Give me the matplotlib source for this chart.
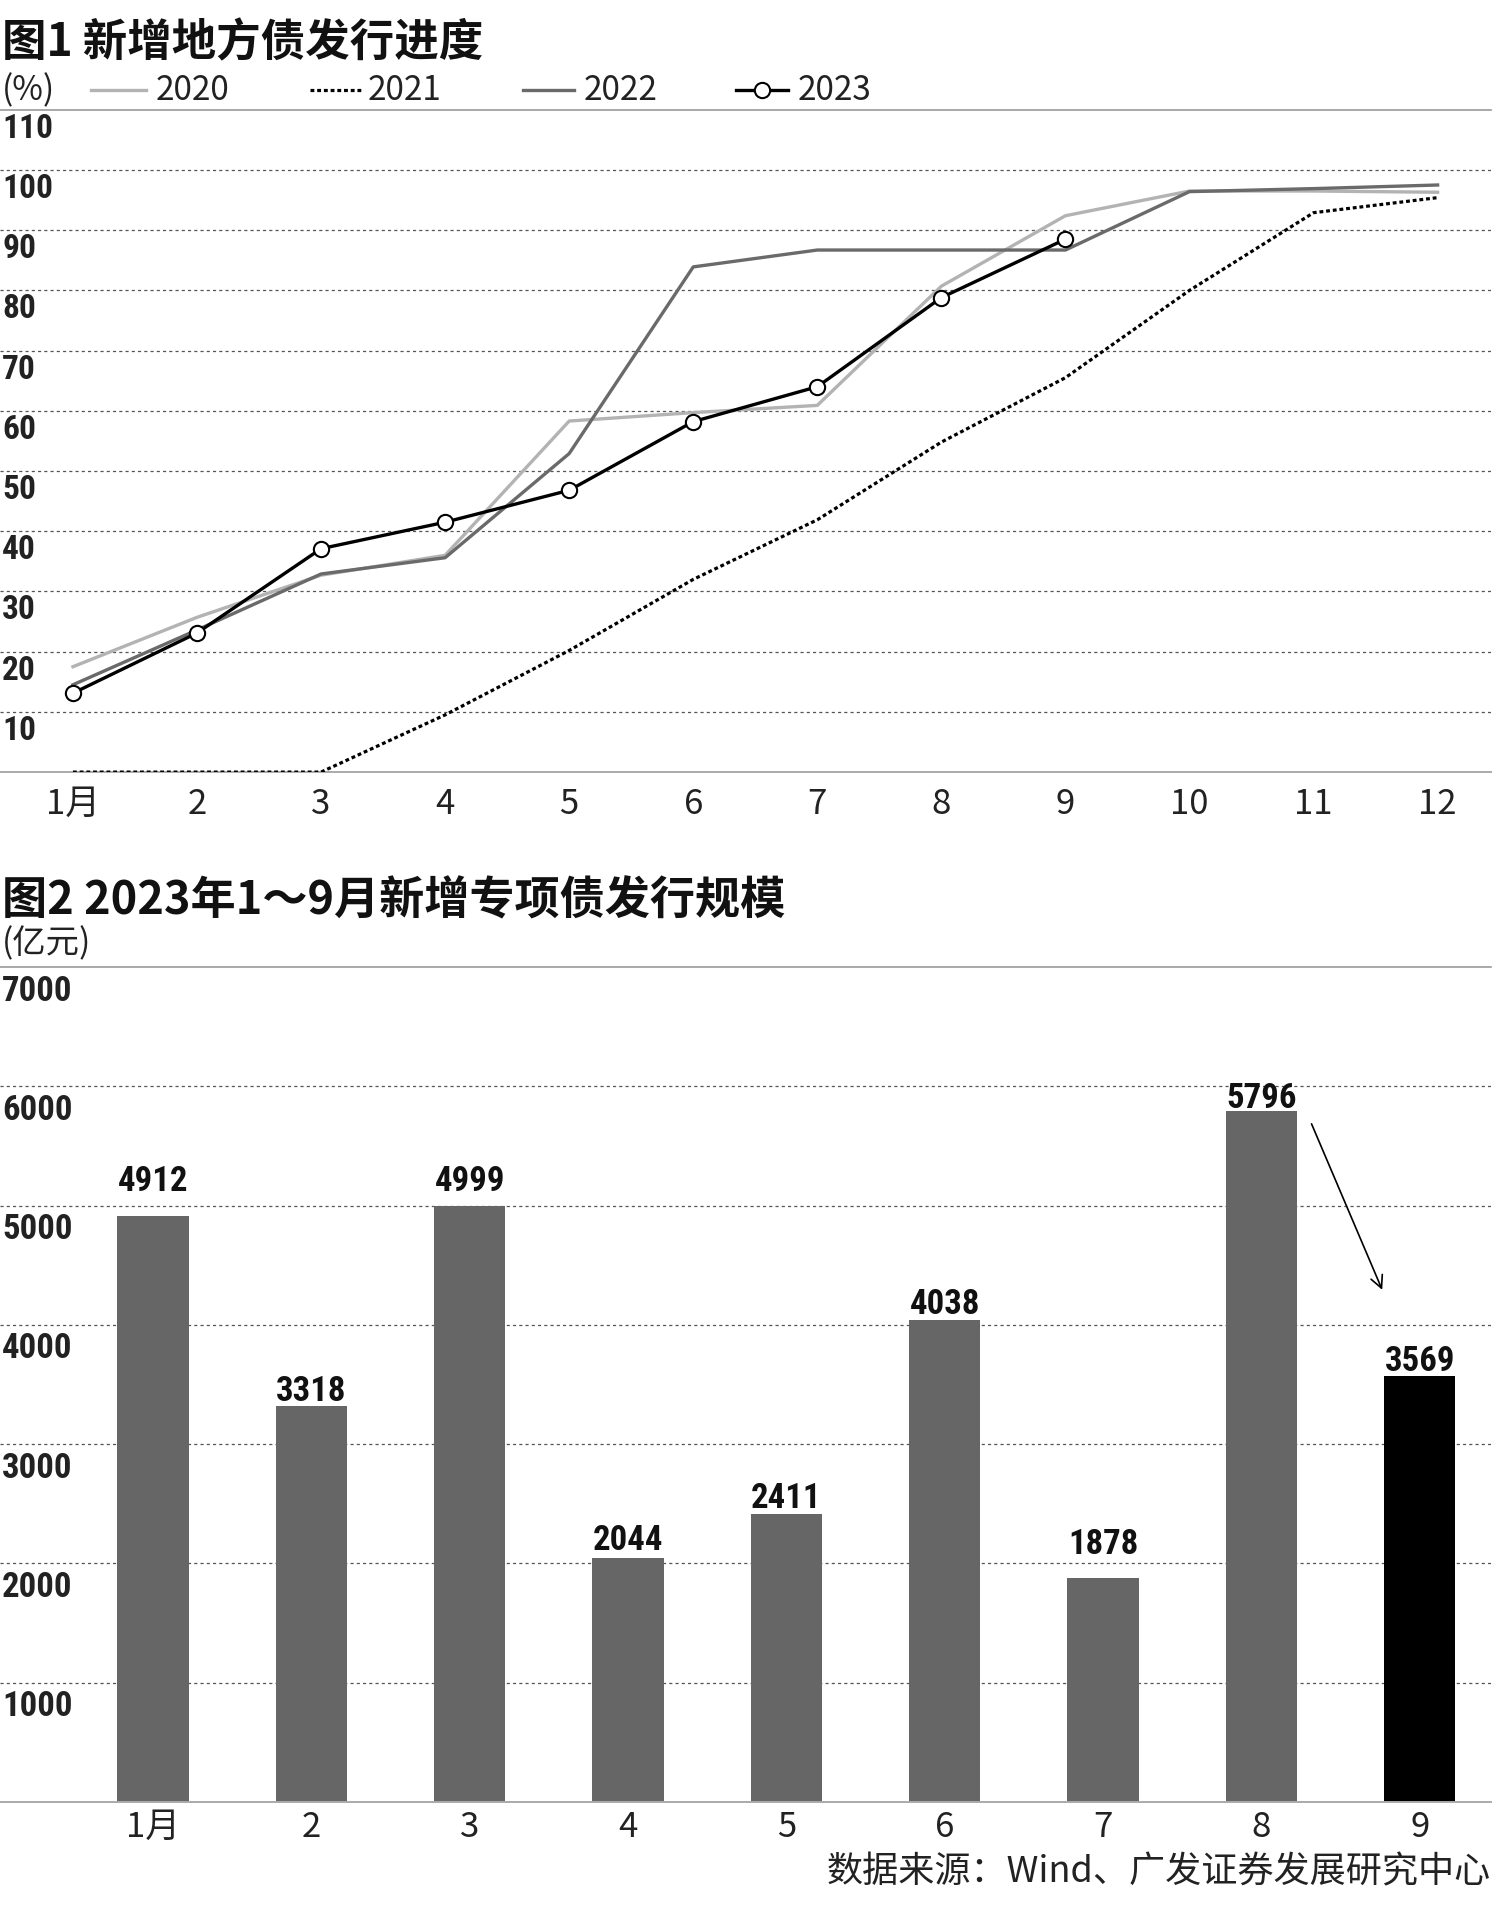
import matplotlib
matplotlib.use("Agg")
import matplotlib.pyplot as plt
from matplotlib.lines import Line2D
from matplotlib import transforms as mtrans
from matplotlib import font_manager as fm

CJK = ['Noto Sans CJK SC', 'DejaVu Sans']
plt.rcParams['font.family'] = CJK

# pick a narrow face for the numbers, if one is installed
_entries = fm.fontManager.ttflist
_names = {f.name for f in _entries}
NUM_KW = None
for cand in ['Liberation Sans Narrow', 'Roboto Condensed', 'Open Sans Condensed',
             'Noto Sans Condensed', 'DejaVu Sans Condensed']:
    if cand in _names:
        NUM_KW = dict(family=[cand, 'DejaVu Sans'], fontweight='bold')
        NUM_SIZE = 1.0
        break
if NUM_KW is None:
    cond = [f for f in _entries if f.name == 'DejaVu Sans' and f.stretch == 'condensed']
    if cond:
        NUM_KW = dict(family=['DejaVu Sans'], fontweight='bold', fontstretch='condensed')
        NUM_SIZE = 0.88
    else:
        NUM_KW = dict(family=['Roboto', 'DejaVu Sans'], fontweight='bold')
        NUM_SIZE = 0.86

# ---------------- data ----------------
months1 = [1, 2, 3, 4, 5, 6, 7, 8, 9, 10, 11, 12]
month_labels1 = ['1月', '2', '3', '4', '5', '6', '7', '8', '9', '10', '11', '12']
s2020 = [17.5, 25.7, 32.7, 36.0, 58.3, 59.7, 60.9, 80.7, 92.4, 96.5, 96.5, 96.3]
s2021 = [0.0, 0.0, 0.0, 9.5, 20.2, 32.0, 41.9, 54.8, 65.5, 80.0, 92.9, 95.4]
s2022 = [14.5, 23.6, 32.9, 35.6, 52.9, 83.9, 86.7, 86.7, 86.7, 96.4, 96.9, 97.5]
months2023 = [1, 2, 3, 4, 5, 6, 7, 8, 9]
s2023 = [13.1, 23.1, 37.1, 41.5, 46.8, 58.2, 64.0, 78.8, 88.5]
yticks1 = [10, 20, 30, 40, 50, 60, 70, 80, 90, 100, 110]

months2 = [1, 2, 3, 4, 5, 6, 7, 8, 9]
month_labels2 = ['1月', '2', '3', '4', '5', '6', '7', '8', '9']
issuance = [4912, 3318, 4999, 2044, 2411, 4038, 1878, 5796, 3569]
yticks2 = [1000, 2000, 3000, 4000, 5000, 6000, 7000]
# vertical gap (pixels) between bar top and centre of its value label
label_gaps = [36, 16, 25, 19, 17, 17, 35, 13, 16]

fig = plt.figure(figsize=(14.98, 19.06), dpi=100)
W = 1498.0

# ---------------- chart 1 ----------------
ax1 = fig.add_axes([0, 0.5944, 0.9953, 0.9419 - 0.5944])
ax1.set_xlim(0.412, 12.43)
ax1.set_ylim(0, 110)
for sp in ['left', 'right']:
    ax1.spines[sp].set_visible(False)
ax1.spines['top'].set_color('#9a9a9a')
ax1.spines['top'].set_linewidth(1.2)
ax1.spines['bottom'].set_color('#aaaaaa')
ax1.spines['bottom'].set_linewidth(1.4)
for v in yticks1[:-1]:
    ax1.axhline(v, color='#555555', lw=0.9, ls=(0, (2.5, 2.5)), zorder=0)
ax1.set_yticks([])
ax1.set_xticks(months1)
ax1.set_xticklabels(month_labels1, fontsize=25, fontweight='light', color='#222222')
ax1.tick_params(axis='x', length=0, pad=10)

ax1.plot(months1, s2020, color='#b3b3b3', lw=2.4, zorder=2)
ax1.plot(months1, s2021, color='black', lw=2.3, ls=(0, (1.2, 0.9)), zorder=3)
ax1.plot(months1, s2022, color='#6a6a6a', lw=2.4, zorder=4)
ax1.plot(months2023, s2023, color='black', lw=2.4, marker='o', ms=11,
         mfc='white', mec='black', mew=1.5, zorder=5)

off1 = mtrans.offset_copy(ax1.get_yaxis_transform(), fig=fig, x=0, y=-18, units='dots')
for v in yticks1:
    ax1.text(0.0015, v, str(v), transform=off1, ha='left', va='center',
             fontsize=24 * NUM_SIZE, color='#222222', **NUM_KW)

# title & legend
fig.text(0.0015, 0.9770, '图1 新增地方债发行进度', fontsize=32, fontweight='bold',
         va='center', ha='left', color='#111111')
ly = 0.9523
fig.text(0.0015, ly, '(%)', fontsize=24, fontweight='light', va='center', ha='left', color='#222222')
legend_items = [
    ('2020', dict(color='#b3b3b3', lw=2.4), 91, 146, 156, False),
    ('2021', dict(color='black', lw=2.3, ls=(0, (1.2, 0.9))), 310, 361, 368, False),
    ('2022', dict(color='#6a6a6a', lw=2.4), 523, 574, 584, False),
    ('2023', dict(color='black', lw=2.4), 736, 788, 798, True),
]
for lab, style, x0, x1, xt, mk in legend_items:
    fig.add_artist(Line2D([x0 / W, x1 / W], [ly, ly], transform=fig.transFigure, **style))
    if mk:
        fig.add_artist(Line2D([(x0 + x1) / 2 / W], [ly], transform=fig.transFigure,
                              marker='o', ms=11, mfc='white', mec='black', mew=1.5, lw=0))
    fig.text(xt / W, ly, lab, fontsize=24, fontweight='light', va='center', ha='left',
             color='#222222')

# ---------------- chart 2 ----------------
ax2 = fig.add_axes([0, 0.0540, 0.9953, 0.4921 - 0.0540])
ax2.set_xlim(0.034, 9.45)
ax2.set_ylim(0, 7000)
for sp in ['left', 'right']:
    ax2.spines[sp].set_visible(False)
ax2.spines['top'].set_color('#9a9a9a')
ax2.spines['top'].set_linewidth(1.2)
ax2.spines['bottom'].set_color('#aaaaaa')
ax2.spines['bottom'].set_linewidth(1.4)
for v in yticks2[:-1]:
    ax2.axhline(v, color='#555555', lw=0.9, ls=(0, (2.5, 2.5)), zorder=0)
ax2.set_yticks([])
ax2.set_xticks(months2)
ax2.set_xticklabels(month_labels2, fontsize=25, fontweight='light', color='#222222')
ax2.tick_params(axis='x', length=0, pad=5)

colors = ['#666666'] * (len(issuance) - 1) + ['#000000']
ax2.bar(months2, issuance, width=0.45, color=colors, zorder=2)
for x, v, g in zip(months2, issuance, label_gaps):
    ax2.annotate(str(v), xy=(x, v), xytext=(0, g), textcoords='offset pixels',
                 ha='center', va='center', fontsize=25 * NUM_SIZE, color='#111111', **NUM_KW)

off2 = mtrans.offset_copy(ax2.get_yaxis_transform(), fig=fig, x=0, y=-23, units='dots')
for v in yticks2:
    ax2.text(0.0015, v, str(v), transform=off2, ha='left', va='center',
             fontsize=25 * NUM_SIZE, color='#222222', **NUM_KW)

ax2.annotate('', xy=(8.77, 4273), xytext=(8.31, 5707),
             arrowprops=dict(arrowstyle='->', lw=1.2, color='black', mutation_scale=22))

fig.text(0.0015, 0.5270, '图2 2023年1～9月新增专项债发行规模', fontsize=32.5, fontweight='bold',
         va='center', ha='left', color='#111111')
fig.text(0.0015, 0.5049, '(亿元)', fontsize=24, fontweight='light', va='center', ha='left',
         color='#222222')
fig.text(0.9953, 0.0175, '数据来源：Wind、广发证券发展研究中心', fontsize=26, fontweight='light',
         va='center', ha='right', color='#222222')

fig.savefig('out.png', dpi=100, facecolor='white')
